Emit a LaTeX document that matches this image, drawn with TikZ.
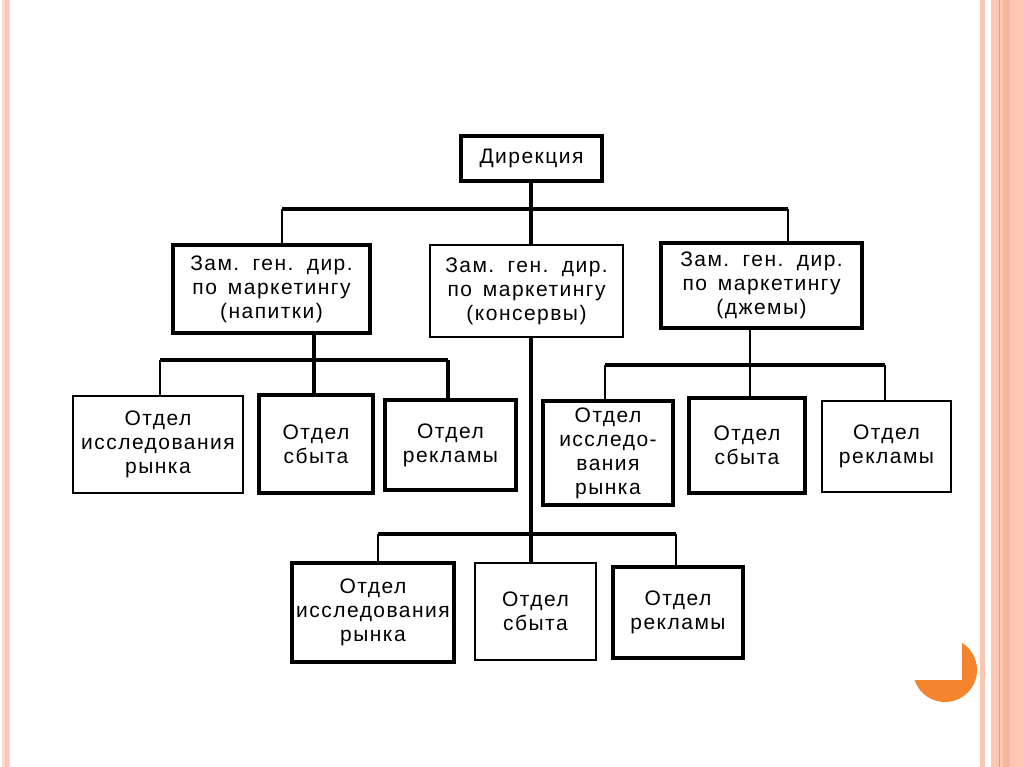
\documentclass[tikz,border=0pt]{standalone}
\usepackage{fontspec}
\newfontfamily\boxfont{Liberation Sans}[LetterSpace=7,WordSpace=1.5]
\definecolor{peach}{HTML}{FCC8B4}
\definecolor{peachsoft}{HTML}{FDDCCF}
\definecolor{peachdark}{HTML}{F9B89E}
\definecolor{peachline}{HTML}{F09A70}
\definecolor{accent}{HTML}{F5842F}
\definecolor{panel}{HTML}{FEFEFE}
\tikzset{
  orgbox/.style={draw=black, fill=white, line width=#1, inner sep=0pt, outer sep=0pt,
    align=center, font=\boxfont\fontsize{21}{24}\selectfont},
  orgbox/.default=3.5pt,
  bus/.style={line width=3.6pt},
  drop/.style={line width=2.6pt},
}
\begin{document}
\begin{tikzpicture}[x=1pt,y=-1pt]
\useasboundingbox (0,0) rectangle (1024,767);
\fill[white] (0,0) rectangle (1024,767);
\fill[panel] (67,123) rectangle (958,677);
% slide decoration
\fill[peachsoft] (2,0) rectangle (10,767);
\fill[peach] (5,0) rectangle (9,767);
\fill[peach] (980,0) rectangle (985,767);
\fill[peach] (991,0) rectangle (1024,767);
\fill[peachdark] (1003,0) rectangle (1010,767);
\draw[peachline, line width=1pt] (999.5,0) -- (999.5,767);
\begin{scope}
  \clip (962,630) -- (990,630) -- (990,710) -- (900,710) -- (900,680) -- (962,680) -- cycle;
  \fill[accent] (945,670) circle (32);
\end{scope}

% nodes
\node[orgbox=3.8pt, minimum width=141, minimum height=45] (dir) at (531.5,158.5) {Дирекция};
\node[orgbox=3.8pt, minimum width=197, minimum height=88] (n) at (271.5,289) {Зам. ген. дир.\\по маркетингу\\(напитки)};
\node[orgbox=2.8pt, minimum width=193, minimum height=92] (k) at (526.5,291) {Зам. ген. дир.\\по маркетингу\\(консервы)};
\node[orgbox=3.8pt, minimum width=201, minimum height=85] (d) at (761.5,285.5) {Зам. ген. дир.\\по маркетингу\\(джемы)};

\node[orgbox=2.8pt, minimum width=170, minimum height=97] (n1) at (158,444.5) {Отдел\\исследования\\рынка};
\node[orgbox=3.8pt, minimum width=114, minimum height=98] (n2) at (316,444) {Отдел\\сбыта};
\node[orgbox=4.3pt, minimum width=131, minimum height=90] (n3) at (450.5,445) {Отдел\\рекламы};

\node[orgbox=3.8pt, minimum width=130, minimum height=104] (d1) at (608,453) {Отдел\\исследо-\\вания\\рынка};
\node[orgbox=3.8pt, minimum width=116, minimum height=95] (d2) at (747,445.5) {Отдел\\сбыта};
\node[orgbox=2.8pt, minimum width=129, minimum height=91] (d3) at (886.5,446.5) {Отдел\\рекламы};

\node[orgbox=3.8pt, minimum width=162, minimum height=99] (k1) at (373,612.5) {Отдел\\исследования\\рынка};
\node[orgbox=2.8pt, minimum width=121, minimum height=97] (k2) at (535.5,611.5) {Отдел\\сбыта};
\node[orgbox=3.2pt, minimum width=130, minimum height=91] (k3) at (678,612.5) {Отдел\\рекламы};

% junction coordinates
\coordinate (topL) at (282,209);
\coordinate (topR) at (788,209);
\coordinate (topM) at (531,209);
\coordinate (nbus) at (314,360);
\coordinate (nbusL) at (160,360);
\coordinate (nbusR) at (448,360);
\coordinate (dbus) at (750,365);
\coordinate (dbusL) at (605,365);
\coordinate (dbusR) at (885,365);
\coordinate (kbus) at (531,534);
\coordinate (kbusL) at (378,534);
\coordinate (kbusR) at (676,534);

% level 1
\draw[bus] (dir.south -| topM) -- (topM);
\draw[bus] (topL) -- (topR);
\draw[drop] (topL) -- (topL |- n.north);
\draw[drop] (topR) -- (topR |- d.north);
\draw[bus] (topM) -- (topM |- k.north);
% напитки
\draw[bus] (n.south -| nbus) -- (nbus |- n2.north);
\draw[bus] (nbusL) -- (nbusR);
\draw[drop] (nbusL) -- (nbusL |- n1.north);
\draw[bus] (nbusR) -- (nbusR |- n3.north);
% джемы
\draw[drop] (d.south -| dbus) -- (dbus |- d2.north);
\draw[bus] (dbusL) -- (dbusR);
\draw[drop] (dbusL) -- (dbusL |- d1.north);
\draw[drop] (dbusR) -- (dbusR |- d3.north);
% консервы
\draw[bus] (k.south -| kbus) -- (kbus |- k2.north);
\draw[bus] (kbusL) -- (kbusR);
\draw[drop] (kbusL) -- (kbusL |- k1.north);
\draw[drop] (kbusR) -- (kbusR |- k3.north);
\end{tikzpicture}
\end{document}
